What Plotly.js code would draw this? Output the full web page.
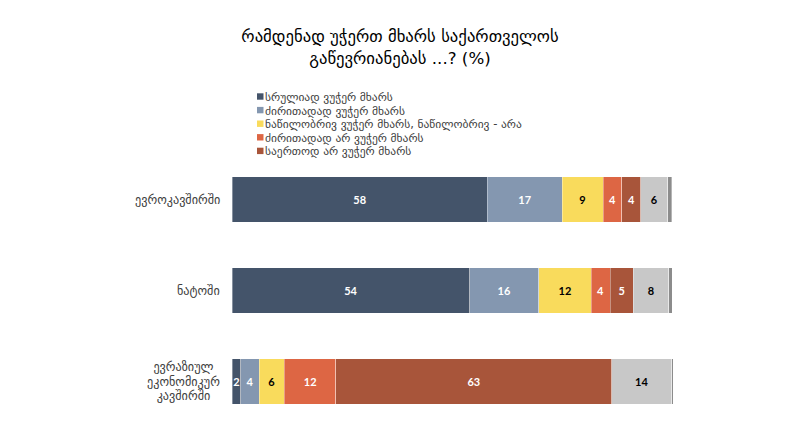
<!DOCTYPE html>
<html>
<head>
<meta charset="utf-8">
<script src="https://cdn.plot.ly/plotly-3.0.1.min.js"></script>
<style>html,body{margin:0;padding:0;background:#fff;}#chart{width:800px;height:437px;}</style>
</head>
<body>
<div id="chart"></div>
<script>
// Categories (top to bottom)
var categories = ['ევროკავშირში', 'ნატოში', 'ევრაზიულ<br>ეკონომიკურ<br>კავშირში'];

// Series names (legend order) and values
var seriesNames = [
  'სრულიად ვუჭერ მხარს',
  'ძირითადად ვუჭერ მხარს',
  'ნაწილობრივ ვუჭერ მხარს, ნაწილობრივ - არა',
  'ძირითადად არ ვუჭერ მხარს',
  'საერთოდ არ ვუჭერ მხარს',
  'არ ვიცი',
  'უარი პასუხზე'
];
var fullySupport    = [58, 54, 2.0];
var mostlySupport   = [17, 15.7, 4.2];
var partlySupport   = [9.3, 11.9, 5.7];
var mostlyNot       = [4.3, 4.3, 11.7];
var notAtAll        = [4.3, 5.3, 62.7];
var dontKnow        = [6.1, 8.0, 13.6];
var refuse          = [0.9, 0.8, 0.4];

var seriesValues = [fullySupport, mostlySupport, partlySupport, mostlyNot, notAtAll, dontKnow, refuse];
var colors = ['#44546A', '#8497B0', '#F9DB5C', '#DD6644', '#A8553A', '#C8C8C8', '#8C8C8C'];
var labelColors = ['#ffffff', '#ffffff', '#000000', '#ffffff', '#ffffff', '#000000', '#000000'];

var traces = seriesValues.map(function (vals, i) {
  return {
    type: 'bar',
    orientation: 'h',
    name: seriesNames[i],
    y: categories,
    x: vals,
    marker: {color: colors[i], line: {color: 'rgba(255,255,255,0.6)', width: 0.6}},
    texttemplate: i === 6 ? '' : '%{x:.0f}',
    textposition: i === 6 ? 'none' : 'inside',
    insidetextanchor: 'middle',
    constraintext: 'none',
    textangle: 0,
    insidetextfont: {family: 'Lato, "DejaVu Sans", sans-serif', size: 11, weight: 'bold', color: labelColors[i]},
    showlegend: false,
    hoverinfo: 'x+name'
  };
});

// Manual compact legend (built from the series arrays)
var L = 232, R = 127, T = 154, B = 10, W = 800, H = 437;
var pw = W - L - R, ph = H - T - B;
function px2x(p) { return (p - L) / pw; }
function py2y(p) { return (H - B - p) / ph; }
var rowGap = 13.6, firstRow = 96.5, nLegend = 5;
var shapes = [], annotations = [];
for (var i = 0; i < nLegend; i++) {
  var cy = firstRow + i * rowGap;
  shapes.push({
    type: 'rect', xref: 'paper', yref: 'paper',
    xsizemode: 'pixel', ysizemode: 'pixel',
    xanchor: px2x(257), yanchor: py2y(cy),
    x0: 0, x1: 6.5, y0: -3.2, y1: 3.2,
    fillcolor: colors[i], line: {width: 0}
  });
}
annotations.push({
  xref: 'paper', yref: 'paper', x: px2x(263),
  y: py2y(firstRow + rowGap * (nLegend - 1) / 2),
  xanchor: 'left', yanchor: 'middle', align: 'left', showarrow: false,
  text: seriesNames.slice(0, nLegend).map(function (n) {
    return '<span style="font-size:11.5px">' + n + '</span>';
  }).join('<br>'),
  font: {family: '"DejaVu Sans", sans-serif', size: rowGap / 1.3, color: '#404040'}
});

// Category labels (centred multi-line, right edge next to the bars)
categories.forEach(function (c) {
  annotations.push({
    xref: 'paper', yref: 'y', x: px2x(222), y: c,
    xanchor: 'right', yanchor: 'middle', align: 'center', showarrow: false,
    text: c.split('<br>').map(function (s) {
      return '<span style="font-size:12.2px">' + s + '</span>';
    }).join('<br>'),
    font: {family: '"DejaVu Sans", sans-serif', size: 11.2, color: '#404040'}
  });
});

var layout = {
  width: W, height: H,
  margin: {l: L, r: R, t: T, b: B, pad: 0},
  paper_bgcolor: '#ffffff', plot_bgcolor: '#ffffff',
  barmode: 'stack',
  bargap: 0.5,
  showlegend: false,
  title: {
    text: 'რამდენად უჭერთ მხარს საქართველოს<br>გაწევრიანებას ...? (%)',
    x: 0.5, xref: 'container', xanchor: 'center',
    y: 0.903, yref: 'container', yanchor: 'top',
    font: {family: '"DejaVu Sans", sans-serif', size: 16.7, color: '#000000'}
  },
  xaxis: {range: [0, 100.2], visible: false, fixedrange: true},
  yaxis: {
    autorange: 'reversed', showgrid: false, zeroline: false, showline: false,
    ticks: '', showticklabels: false
  },
  shapes: shapes,
  annotations: annotations
};

Plotly.newPlot('chart', traces, layout, {displayModeBar: false, staticPlot: true});
</script>
</body>
</html>
